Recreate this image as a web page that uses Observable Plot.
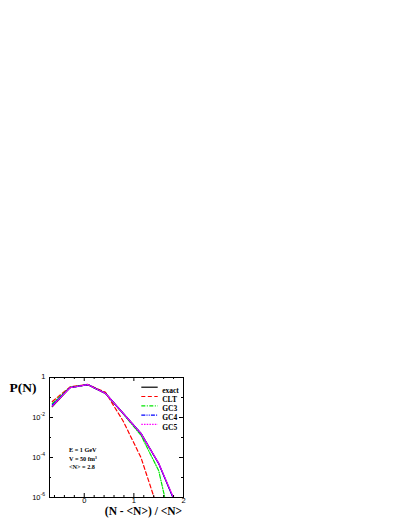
<!DOCTYPE html>
<html>
<head>
<meta charset="utf-8">
<script src="https://cdn.jsdelivr.net/npm/d3@7"></script>
<script src="https://cdn.jsdelivr.net/npm/@observablehq/plot@0.6"></script>
<style>
  html, body { margin: 0; padding: 0; background: #fff; }
  #chart { position: relative; }
  #chart svg { display: block; }
</style>
</head>
<body>
<div id="chart"></div>
<script>
// ---- data ----
// x = (N - <N>)/<N>, with <N> = 2.8, N = 1..8
const xs = [-0.643, -0.286, 0.071, 0.429, 0.786, 1.143, 1.5, 1.857];
const exactP = [0.0355, 0.31, 0.44, 0.16, 0.016, 1.6e-3, 5.0e-5, 4.0e-7];
const cltP   = [0.063, 0.34, 0.45, 0.18, 6.5e-3, 1.0e-4, 2.0e-7];
const gc3P   = [0.050, 0.32, 0.44, 0.16, 0.015, 1.3e-3, 2.2e-5, 3.0e-9];
const gc4P   = [0.042, 0.31, 0.44, 0.16, 0.016, 1.6e-3, 5.0e-5, 4.0e-7];
const gc5P   = [0.037, 0.31, 0.44, 0.16, 0.016, 1.6e-3, 5.2e-5, 4.5e-7];

const seriesNames = ["exact", "CLT", "GC3", "GC4", "GC5"];
const seriesVals = [exactP, cltP, gc3P, gc4P, gc5P];
const seriesColors = ["#000000", "#ff0000", "#00e600", "#0000ff", "#ff00ff"];
const seriesDash = [null, "4,2.5", "4,1.5,1,1.5", "4,1.2,1,1.2,1,1.2", "1.5,1.2"];

const xMajor = [0, 1, 2];
const xMinor = [-0.6, -0.4, -0.2, 0.2, 0.4, 0.6, 0.8, 1.2, 1.4, 1.6, 1.8];
const yMajor = [1, 1e-2, 1e-4, 1e-6];
const yMajorBase = ["", "10", "10", "10"];
const yMajorExp = ["1", "-2", "-4", "-6"];
const yMinor = [1e-1, 1e-3, 1e-5];

const notes = ["E = 1 GeV", "V = 50 fm\u00B3", "<N> = 2.8"];

// ---- layout ----
const W = 409, H = 529;
const mL = 49, mR = 226, mT = 377, mB = 32;
const fw = W - mL - mR, fh = H - mT - mB;
const serif = "'Liberation Serif', 'Times New Roman', serif";
const sans = "'Liberation Sans', Arial, sans-serif";
const legRow0 = 9.7, legRowStep = 9.3;
const legX1 = 1.16, legX2 = 1.49;

const rows = [];
seriesNames.forEach((name, i) => {
  seriesVals[i].forEach((p, j) => rows.push({series: name, x: xs[j], p}));
});

const marks = [];
const order = [1, 2, 0, 3, 4];
for (const i of order) {
  marks.push(Plot.line(rows.filter(r => r.series === seriesNames[i]), {
    x: "x", y: "p", stroke: seriesColors[i], strokeWidth: 1.2,
    strokeDasharray: seriesDash[i], clip: true
  }));
}
marks.push(Plot.frame({stroke: "#000", strokeWidth: 1}));
// inward ticks
marks.push(Plot.tickX(xMajor, {x: d => d, insetTop: fh - 4, stroke: "#000"}));
marks.push(Plot.tickX(xMinor, {x: d => d, insetTop: fh - 2, stroke: "#000"}));
marks.push(Plot.tickX(xMajor, {x: d => d, insetBottom: fh - 4, stroke: "#000"}));
marks.push(Plot.tickX(xMinor, {x: d => d, insetBottom: fh - 2, stroke: "#000"}));
marks.push(Plot.tickY(yMajor, {y: d => d, insetRight: fw - 4, stroke: "#000"}));
marks.push(Plot.tickY(yMinor, {y: d => d, insetRight: fw - 2, stroke: "#000"}));
marks.push(Plot.tickY(yMajor, {y: d => d, insetLeft: fw - 4, stroke: "#000"}));
marks.push(Plot.tickY(yMinor, {y: d => d, insetLeft: fw - 2, stroke: "#000"}));
// x tick labels
marks.push(Plot.text(xMajor, {x: d => d, frameAnchor: "bottom", dy: 5, text: d => String(d),
  textAnchor: "middle", fontSize: 7.5, fontFamily: sans, fill: "#000"}));
// y tick labels
const yLab = yMajor.map((v, i) => ({v, base: yMajorBase[i], exp: yMajorExp[i]}));
marks.push(Plot.text(yLab.filter(d => d.base), {y: "v", frameAnchor: "left", dx: -9,
  textAnchor: "end", text: "base", fontSize: 7.5, fontFamily: sans, fill: "#000"}));
marks.push(Plot.text(yLab.filter(d => d.base), {y: "v", frameAnchor: "left", dx: -9, dy: -3,
  textAnchor: "start", text: "exp", fontSize: 5, fontFamily: sans, fill: "#000"}));
marks.push(Plot.text(yLab.filter(d => !d.base), {y: "v", frameAnchor: "left", dx: -4, dy: -1,
  textAnchor: "end", text: "exp", fontSize: 7.5, fontFamily: sans, fill: "#000"}));
// axis titles
marks.push(Plot.text(["P(N)"], {frameAnchor: "top-left", dx: -26.5, dy: 5, text: d => d,
  textAnchor: "middle", fontSize: 13.5, fontWeight: "bold", fontFamily: serif, fill: "#000"}));
marks.push(Plot.text(["(N - <N>) / <N>"], {frameAnchor: "bottom", dx: 27, dy: 17, text: d => d,
  textAnchor: "middle", fontSize: 11.5, fontWeight: "bold", fontFamily: serif, fill: "#000"}));
// notes
notes.forEach((t, i) => {
  marks.push(Plot.text([t], {frameAnchor: "bottom-left", dx: 19.5, dy: -45.3 + 8.3 * i, text: d => d,
    textAnchor: "start", fontSize: 6.2, fontWeight: "bold", fontFamily: serif, fill: "#000"}));
});
// legend labels
seriesNames.forEach((name, i) => {
  marks.push(Plot.text([name], {frameAnchor: "top-left", dx: 112.7, dy: legRow0 + legRowStep * i,
    text: d => d, textAnchor: "start",
    fontSize: 7.5, fontWeight: "bold", fontFamily: serif, fill: "#000"}));
});

const plot = Plot.plot({
  width: W, height: H,
  marginLeft: mL, marginRight: mR, marginTop: mT, marginBottom: mB,
  x: {domain: [-0.7, 2], axis: null},
  y: {type: "log", domain: [1e-6, 1], axis: null},
  style: {background: "#fff"},
  marks
});

// legend line samples: overlay layer sharing the x scale, y in pixel rows from frame top
const legendPlot = Plot.plot({
  width: W, height: H,
  marginLeft: mL, marginRight: mR, marginTop: mT, marginBottom: mB,
  x: {domain: [-0.7, 2], axis: null},
  y: {domain: [0, fh], reverse: true, axis: null},
  style: {background: "transparent", position: "absolute", left: "0px", top: "0px"},
  marks: seriesNames.map((name, i) => Plot.ruleY([legRow0 + legRowStep * i], {
    x1: legX1, x2: legX2, stroke: seriesColors[i], strokeWidth: 1.2, strokeDasharray: seriesDash[i]
  }))
});
const chart = document.getElementById("chart");
chart.appendChild(plot);
chart.appendChild(legendPlot);
</script>
</body>
</html>
